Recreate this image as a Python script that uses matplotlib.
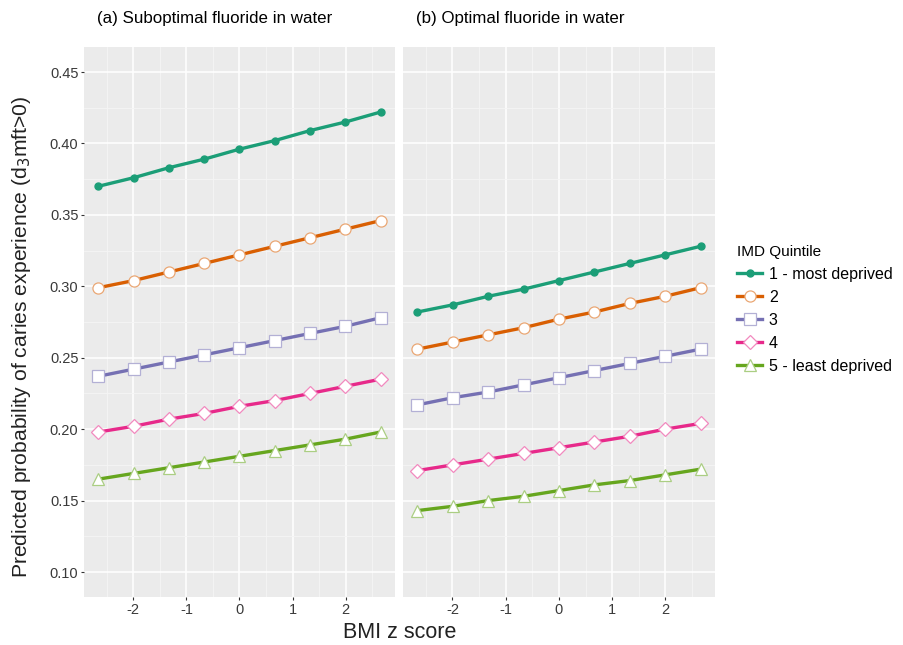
import matplotlib
matplotlib.use("Agg")
import matplotlib.pyplot as plt
from matplotlib.colors import to_rgb

plt.rcParams['font.family'] = ['Liberation Sans', 'DejaVu Sans']
plt.rcParams['axes.unicode_minus'] = False

# BMI z score values where predictions were made
bmi_z = [-2.66, -1.995, -1.33, -0.665, 0.0, 0.665, 1.33, 1.995, 2.66]

quintiles = ['1 - most deprived', '2', '3', '4', '5 - least deprived']

# (a) suboptimal fluoride
sub_q1 = [0.370, 0.376, 0.383, 0.389, 0.396, 0.402, 0.409, 0.415, 0.422]
sub_q2 = [0.299, 0.304, 0.310, 0.316, 0.322, 0.328, 0.334, 0.340, 0.346]
sub_q3 = [0.237, 0.242, 0.247, 0.252, 0.257, 0.262, 0.267, 0.272, 0.278]
sub_q4 = [0.198, 0.202, 0.207, 0.211, 0.216, 0.220, 0.225, 0.230, 0.235]
sub_q5 = [0.165, 0.169, 0.173, 0.177, 0.181, 0.185, 0.189, 0.193, 0.198]

# (b) optimal fluoride
opt_q1 = [0.282, 0.287, 0.293, 0.298, 0.304, 0.310, 0.316, 0.322, 0.328]
opt_q2 = [0.256, 0.261, 0.266, 0.271, 0.277, 0.282, 0.288, 0.293, 0.299]
opt_q3 = [0.217, 0.222, 0.226, 0.231, 0.236, 0.241, 0.246, 0.251, 0.256]
opt_q4 = [0.171, 0.175, 0.179, 0.183, 0.187, 0.191, 0.195, 0.200, 0.204]
opt_q5 = [0.143, 0.146, 0.150, 0.153, 0.157, 0.161, 0.164, 0.168, 0.172]

panel_titles = ['(a) Suboptimal fluoride in water', '(b) Optimal fluoride in water']
x_ticks = [-2, -1, 0, 1, 2]
y_ticks = [0.10, 0.15, 0.20, 0.25, 0.30, 0.35, 0.40, 0.45]

colors = ['#1B9E77', '#D95F02', '#7570B3', '#E7298A', '#66A61E']
markers = ['o', 'o', 's', 'D', '^']


def lighten(c, f=0.45):
    r, g, b = to_rgb(c)
    return (r + (1 - r) * f, g + (1 - g) * f, b + (1 - b) * f)


fig = plt.figure(figsize=(9.04, 6.45), dpi=100)
ax1 = fig.add_axes([0.0929, 0.0744, 0.344, 0.8527])
ax2 = fig.add_axes([0.4458, 0.0744, 0.345, 0.8527], sharey=ax1)

handles = []
for ax, series, title in [(ax1, [sub_q1, sub_q2, sub_q3, sub_q4, sub_q5], panel_titles[0]),
                          (ax2, [opt_q1, opt_q2, opt_q3, opt_q4, opt_q5], panel_titles[1])]:
    ax.set_facecolor('#EBEBEB')
    for i, y in enumerate(series):
        if i == 0:
            ln, = ax.plot(bmi_z, y, color=colors[i], lw=2.4, marker='o', ms=5,
                          mfc=colors[i], mec=colors[i], zorder=3)
        else:
            ln, = ax.plot(bmi_z, y, color=colors[i], lw=2.4, marker=markers[i],
                          ms=8 if markers[i] != 'D' else 7, mfc='white',
                          mec=lighten(colors[i]), mew=0.9, zorder=3)
        if ax is ax1:
            handles.append(ln)
    ax.set_xlim(-2.93, 2.93)
    ax.set_ylim(0.0825, 0.4675)
    ax.set_xticks(x_ticks)
    ax.set_xticks([-2.5, -1.5, -0.5, 0.5, 1.5, 2.5], minor=True)
    ax.set_yticks(y_ticks)
    ax.set_yticks([0.125, 0.175, 0.225, 0.275, 0.325, 0.375, 0.425], minor=True)
    ax.grid(which='major', color='white', lw=1.1)
    ax.grid(which='minor', color='#F5F5F5', lw=0.6)
    ax.set_axisbelow(True)
    for s in ax.spines.values():
        s.set_visible(False)
    ax.tick_params(which='major', length=2, color='#333333', labelsize=10.5,
                   labelcolor='#3A3A3A', pad=2)
    ax.tick_params(which='minor', length=0)
    ax.text(0.042, 1.052, title, transform=ax.transAxes, fontsize=12.2,
            ha='left', va='center')

ax1.set_yticklabels(['%.2f' % v for v in y_ticks])
ax2.tick_params(axis='y', labelleft=False, length=0)

fig.text(0.024, 0.478, 'Predicted probability of caries experience (d$_3$mft>0)',
         rotation=90, ha='center', va='center', fontsize=15.2, color='#222222')
fig.text(0.442, 0.02, 'BMI z score', ha='center', va='center', fontsize=15.5,
         color='#222222')

leg = fig.legend(handles, quintiles, loc='upper left', bbox_to_anchor=(0.808, 0.63),
                 frameon=False, title='IMD Quintile', fontsize=11.5,
                 title_fontsize=11, handlelength=1.6, handletextpad=0.4,
                 labelspacing=0.5, borderaxespad=0)
leg._legend_box.align = 'left'

fig.savefig('out.png', dpi=100)
